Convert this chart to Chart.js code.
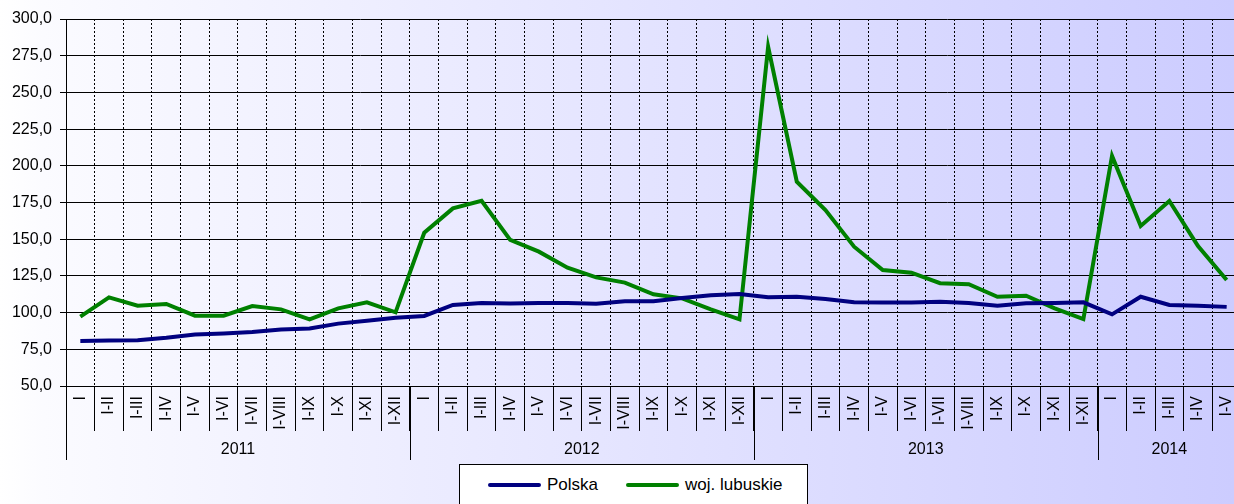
<!DOCTYPE html>
<html>
<head>
<meta charset="utf-8">
<script src="https://cdn.jsdelivr.net/npm/chart.js@4"></script>
<style>
  html, body { margin: 0; padding: 0; overflow: hidden; width: 1234px; height: 504px; background: #fff; }
  #wrap { position: relative; width: 1241px; height: 504px; }
  #legend { position: absolute; left: 459px; top: 464px; width: 349px; height: 50px; background: #fff;
            border: 1px solid #000; box-sizing: border-box; display: flex; align-items: flex-start;
            padding: 0 0 0 28px; font: 17px "Liberation Sans", Arial, sans-serif; color: #000; }
  #legend .row { display: flex; align-items: center; height: 40px; }
  #legend .swatch { display: inline-block; width: 53px; height: 4px; border-radius: 2px; margin-right: 6px; }
  #legend .gap { width: 28px; }
</style>
</head>
<body>
<div id="wrap">
  <canvas id="myChart" width="1241" height="504"></canvas>
  <div id="legend">
    <div class="row">
      <span class="swatch" style="background:#000080"></span><span>Polska</span>
      <span class="gap"></span>
      <span class="swatch" style="background:#008000"></span><span>woj. lubuskie</span>
    </div>
  </div>
</div>
<script>
// months of each year, cumulative periods
var months = ['I', 'I-II', 'I-III', 'I-IV', 'I-V', 'I-VI', 'I-VII', 'I-VIII', 'I-IX', 'I-X', 'I-XI', 'I-XII'];
var years = ['2011', '2012', '2013', '2014'];
var yearSpan = [12, 12, 12, 5];
var labels = [].concat(months, months, months, months.slice(0, 5));

// values
var polska = [80.7, 81, 81.2, 82.8, 85, 85.8, 86.8, 88.5, 89.2, 92.5, 94.5, 96.5,
              97.7, 105.2, 106.5, 106.2, 106.5, 106.5, 106, 107.8, 107.8, 110, 111.8, 112.7,
              110.4, 110.8, 109.3, 107, 106.8, 106.8, 107.4, 106.5, 104.7, 106.3, 106.5, 107,
              98.8, 110.8, 105.2, 104.7, 103.9];
var lubuskie = [97.2, 110.4, 104.7, 105.9, 97.9, 97.9, 104.5, 102.2, 95.4, 102.9, 107, 100.2,
                154.4, 171, 176.2, 149.5, 141.5, 130.6, 124, 120.4, 112.5, 109.7, 102.2, 95.4,
                281.1, 189.2, 169.9, 144.9, 129, 127.2, 120, 119.3, 110.8, 111.5, 102.9, 95.6,
                206.7, 159, 176, 145.4, 122.2];

var fontFamily = '"Liberation Sans", Arial, sans-serif';

// gradient background behind everything
var background = {
    id: 'background',
    beforeDraw: function(chart) {
        var ctx = chart.ctx;
        var g = ctx.createLinearGradient(0, 0, 1234, 0);
        g.addColorStop(0, '#ffffff');
        g.addColorStop(0.035, '#fbfbff');
        g.addColorStop(1, '#ccccff');
        ctx.save();
        ctx.fillStyle = g;
        ctx.fillRect(0, 0, chart.width, chart.height);
        ctx.restore();
    }
};

// second row of the x axis: year groups
var yearGroups = {
    id: 'yearGroups',
    afterDraw: function(chart) {
        var x = chart.scales.x;
        var ctx = chart.ctx;
        var w = x.getPixelForValue(1) - x.getPixelForValue(0);
        var start = 0;
        ctx.save();
        ctx.strokeStyle = '#000';
        ctx.lineWidth = 1;
        ctx.fillStyle = '#000';
        ctx.font = '16px ' + fontFamily;
        ctx.textAlign = 'center';
        ctx.textBaseline = 'middle';
        for (var i = 0; i < years.length; i++) {
            var end = start + yearSpan[i];
            var left = x.getPixelForValue(start) - w / 2;
            var right = x.getPixelForValue(end - 1) + w / 2;
            var lx = Math.round(left) + 0.5;
            ctx.beginPath();
            ctx.moveTo(lx, x.top);
            ctx.lineTo(lx, x.top + 74);
            ctx.stroke();
            ctx.fillText(years[i], (left + right) / 2, x.top + 64);
            start = end;
        }
        ctx.restore();
    }
};

new Chart(document.getElementById('myChart'), {
    type: 'line',
    data: {
        labels: labels,
        datasets: [{
            label: 'Polska',
            data: polska,
            borderColor: '#000080',
            backgroundColor: '#000080',
            borderWidth: 4,
            pointRadius: 0,
            tension: 0
        }, {
            label: 'woj. lubuskie',
            data: lubuskie,
            borderColor: '#008000',
            backgroundColor: '#008000',
            borderWidth: 4,
            pointRadius: 0,
            tension: 0
        }]
    },
    options: {
        responsive: false,
        animation: false,
        layout: { padding: { top: 19, right: 0, bottom: 0, left: 0 } },
        plugins: { legend: { display: false }, tooltip: { enabled: false } },
        scales: {
            x: {
                offset: true,
                grid: { offset: true, color: '#000', lineWidth: 1, tickLength: 45, tickColor: '#000' },
                border: { display: true, color: '#000', width: 1, dash: [2, 2] },
                ticks: { autoSkip: false, minRotation: 90, maxRotation: 90, padding: -35,
                         color: '#000', font: { family: fontFamily, size: 16 } },
                afterFit: function(s) { s.height = 118; s.paddingLeft = 0; s.paddingRight = 0; }
            },
            y: {
                min: 50,
                max: 300,
                grid: { color: '#000', lineWidth: 1, tickLength: 6 },
                border: { color: '#000', width: 1 },
                ticks: { stepSize: 25, padding: 8, color: '#000', font: { family: fontFamily, size: 16 },
                         callback: function(v) { return v.toFixed(1).replace('.', ','); } },
                afterFit: function(s) { s.width = 66; s.paddingTop = 0; s.paddingBottom = 0; }
            }
        }
    },
    plugins: [background, yearGroups]
});
</script>
</body>
</html>
